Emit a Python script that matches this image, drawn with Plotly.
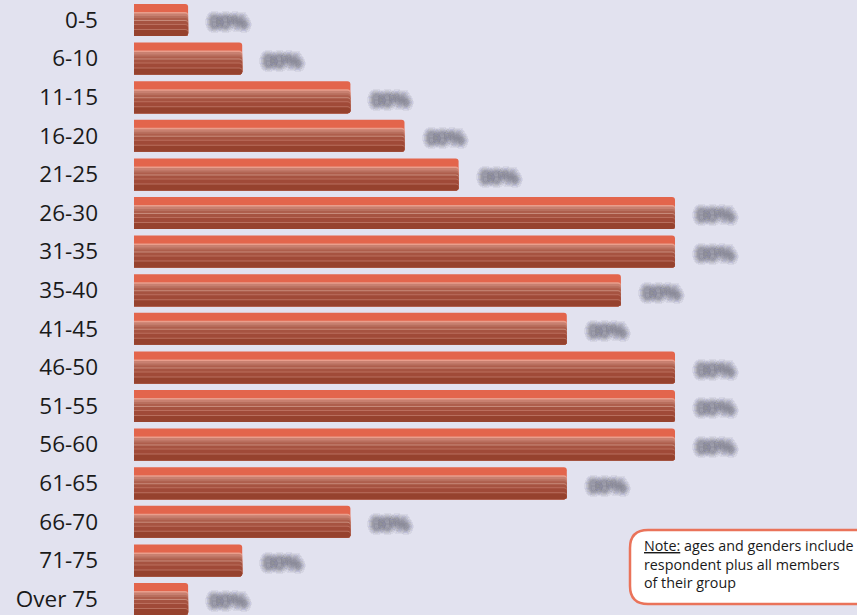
import plotly.graph_objects as go

# Age groups and their share of respondents (percent)
age_groups = ["0-5", "6-10", "11-15", "16-20", "21-25", "26-30", "31-35", "35-40",
              "41-45", "46-50", "51-55", "56-60", "61-65", "66-70", "71-75", "Over 75"]
shares = [1, 2, 4, 5, 6, 10, 10, 9, 8, 10, 10, 10, 8, 4, 2, 1]
value_labels = ["00%"] * len(age_groups)

BG = "#e2e2ef"
ROW_PX = 38.6            # pixel height of one category row
BAR_PX = 32.0            # pixel thickness of each bar

# Horizontal bands that give each bar its bevelled, tube-like look (top to bottom)
stripes = [
    (8.0, "#e3654c"),
    (1.5, "#e99e8c"),
    (2.5, "#c88070"),
    (2.0, "#b86f5e"),
    (2.0, "#ae5e4c"),
    (1.0, "#c78a7a"),
    (3.0, "#a65341"),
    (1.0, "#ba6e5d"),
    (4.0, "#a04a38"),
    (1.0, "#b86f5e"),
    (6.0, "#96422e"),
]

positions = list(range(len(age_groups)))
fig = go.Figure()

# Each band is drawn from its own top edge down to the bar's bottom, so the
# next band overlays it and no seams appear between them.
top_px = -BAR_PX / 2
for h_px, color in stripes:
    fig.add_trace(go.Bar(
        x=shares, y=positions, orientation="h",
        width=(BAR_PX / 2 - top_px) / ROW_PX, offset=top_px / ROW_PX,
        marker=dict(color=color, line=dict(width=0), cornerradius=3),
        hoverinfo="skip", showlegend=False,
    ))
    top_px += h_px

# Soft, blurred value labels: a very faint glyph with stacked wide text shadows
blur = ", ".join(["0px 0px 5.5px rgb(98,98,112)"] * 12)
for pos, val, lab in zip(positions, shares, value_labels):
    fig.add_annotation(
        x=val, y=pos + 0.06, xref="x", yref="y", text=lab, showarrow=False,
        xanchor="left", xshift=19,
        font=dict(family="Open Sans", size=19, weight="bold",
                  color="rgba(125,125,138,0.12)", shadow=blur),
    )

W, H = 857, 615
L = 134
plot_w = W - L
x_max = plot_w / 54.1

def px(xp):
    return (xp - L) / plot_w

def py(yp):
    return 1 - yp / H

# Rounded note box (right side runs past the page edge)
x0, x1, y0, y1, r = 630, 880, 530, 604, 18
path = (
    f"M {px(x0 + r)} {py(y0)} L {px(x1 - r)} {py(y0)} "
    f"Q {px(x1)} {py(y0)} {px(x1)} {py(y0 + r)} L {px(x1)} {py(y1 - r)} "
    f"Q {px(x1)} {py(y1)} {px(x1 - r)} {py(y1)} L {px(x0 + r)} {py(y1)} "
    f"Q {px(x0)} {py(y1)} {px(x0)} {py(y1 - r)} L {px(x0)} {py(y0 + r)} "
    f"Q {px(x0)} {py(y0)} {px(x0 + r)} {py(y0)} Z"
)
fig.add_shape(type="path", path=path, xref="paper", yref="paper",
              fillcolor="white", line=dict(color="#ea735a", width=2.5), layer="above")
fig.add_annotation(
    x=px(642), y=py(534), xref="paper", yref="paper", xanchor="left", yanchor="top",
    align="left", showarrow=False,
    text="<u>Note:</u> ages and genders include<br>respondent plus all members<br>of their group",
    font=dict(family="Open Sans", size=14.3, color="#1a1a1a"),
)

fig.update_layout(
    width=W, height=H,
    margin=dict(l=L, r=0, t=0, b=0),
    paper_bgcolor=BG, plot_bgcolor=BG,
    barmode="overlay",
    xaxis=dict(range=[0, x_max], visible=False, fixedrange=True),
    yaxis=dict(
        range=[15 + 16 / ROW_PX, -20 / ROW_PX],
        tickvals=positions, ticktext=age_groups,
        showgrid=False, zeroline=False, showline=False, ticks="",
        ticklabelstandoff=35,
        tickfont=dict(family="Open Sans", size=22.5, color="#1a1a1a"),
    ),
)

fig.write_html("out.html")
